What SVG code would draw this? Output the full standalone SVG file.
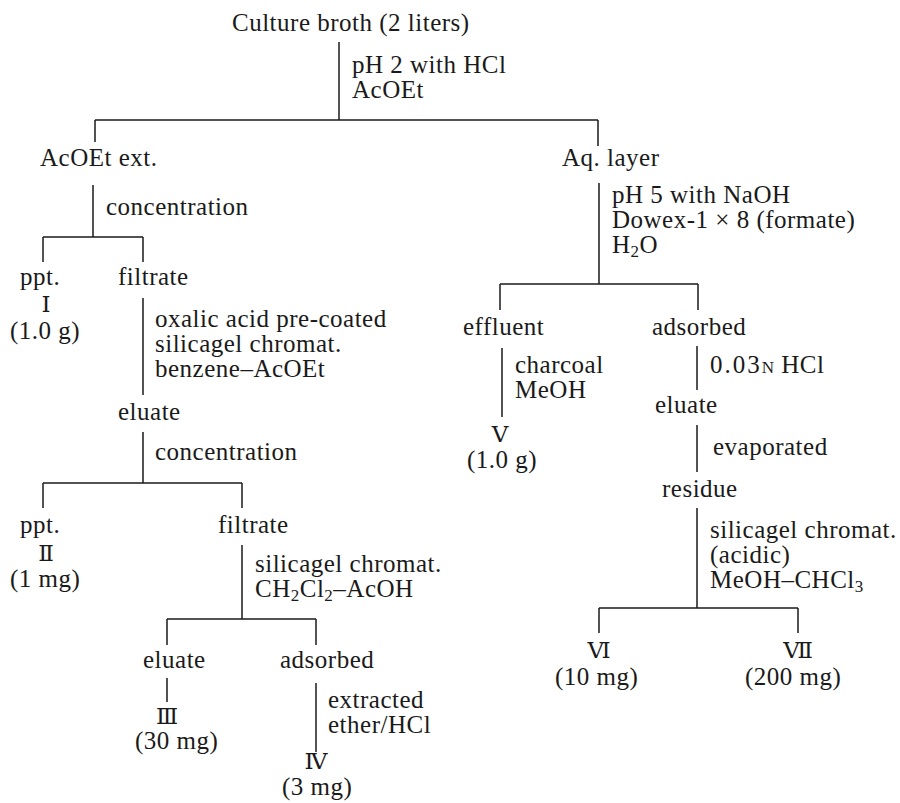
<svg xmlns="http://www.w3.org/2000/svg" width="900" height="803" viewBox="0 0 900 803">
<style>
text{font-family:"Liberation Serif","DejaVu Serif",serif;font-size:25px;letter-spacing:0.5px;fill:#1a1a1a}
.m{text-anchor:middle}
.rn{font-size:23px;letter-spacing:0}
.sub{font-size:17px}
.sc{font-size:17px}
line{stroke:#1a1a1a;stroke-width:1.5;fill:none}
</style>
<rect width="900" height="803" fill="#fff"/>
<g id="connectors">
<line x1="339" y1="42" x2="339" y2="120"/>
<line x1="95" y1="120" x2="598" y2="120"/>
<line x1="95" y1="120" x2="95" y2="142"/>
<line x1="598" y1="120" x2="598" y2="146"/>
<line x1="93" y1="185" x2="93" y2="237"/>
<line x1="43" y1="237" x2="143" y2="237"/>
<line x1="43" y1="237" x2="43" y2="262"/>
<line x1="143" y1="237" x2="143" y2="262"/>
<line x1="143" y1="298" x2="143" y2="395"/>
<line x1="143" y1="432" x2="143" y2="483"/>
<line x1="43" y1="483" x2="242" y2="483"/>
<line x1="43" y1="483" x2="43" y2="508"/>
<line x1="242" y1="483" x2="242" y2="508"/>
<line x1="242" y1="545" x2="242" y2="619"/>
<line x1="167" y1="619" x2="316" y2="619"/>
<line x1="167" y1="619" x2="167" y2="645"/>
<line x1="316" y1="619" x2="316" y2="645"/>
<line x1="167" y1="678" x2="167" y2="702"/>
<line x1="316" y1="683" x2="316" y2="752"/>
<line x1="599" y1="183" x2="599" y2="284"/>
<line x1="500" y1="284" x2="698" y2="284"/>
<line x1="500" y1="284" x2="500" y2="310"/>
<line x1="698" y1="284" x2="698" y2="310"/>
<line x1="502" y1="348" x2="502" y2="417"/>
<line x1="697" y1="346" x2="697" y2="390"/>
<line x1="697" y1="425" x2="697" y2="472"/>
<line x1="697" y1="508" x2="697" y2="608"/>
<line x1="599" y1="608" x2="798" y2="608"/>
<line x1="599" y1="608" x2="599" y2="633"/>
<line x1="798" y1="608" x2="798" y2="633"/>
</g>
<g id="steps">
<text x="352" y="73">pH 2 with HCl</text>
<text x="352" y="98">AcOEt</text>
<text x="106" y="215">concentration</text>
<text x="155" y="327">oxalic acid pre-coated</text>
<text x="155" y="352">silicagel chromat.</text>
<text x="155" y="377">benzene–AcOEt</text>
<text x="155" y="460">concentration</text>
<text x="255" y="572">silicagel chromat.</text>
<text x="255" y="597">CH<tspan class="sub" dy="4">2</tspan><tspan dy="-4">Cl</tspan><tspan class="sub" dy="4">2</tspan><tspan dy="-4">–AcOH</tspan></text>
<text x="328" y="708">extracted</text>
<text x="328" y="733">ether/HCl</text>
<text x="612" y="203">pH 5 with NaOH</text>
<text x="612" y="228">Dowex-1 × 8 (formate)</text>
<text x="612" y="253">H<tspan class="sub" dy="4">2</tspan><tspan dy="-4">O</tspan></text>
<text x="515" y="373">charcoal</text>
<text x="515" y="398">MeOH</text>
<text x="710" y="373"><tspan letter-spacing="2">0.03</tspan><tspan class="sc">N</tspan> HCl</text>
<text x="713" y="455">evaporated</text>
<text x="710" y="538">silicagel chromat.</text>
<text x="710" y="563">(acidic)</text>
<text x="710" y="588">MeOH–CHCl<tspan class="sub" dy="4">3</tspan></text>
</g>
<g id="n-broth"><text x="232" y="31">Culture broth (2 liters)</text></g>
<g id="n-acoet-ext"><text x="40" y="166">AcOEt ext.</text></g>
<g id="n-aq-layer"><text x="562" y="166">Aq. layer</text></g>
<g id="n-ppt1"><text x="20" y="285">ppt.</text><text class="m rn" x="46" y="312">Ⅰ</text><text x="10" y="339">(1.0 g)</text></g>
<g id="n-filtrate1"><text x="118" y="285">filtrate</text></g>
<g id="n-eluate1"><text x="118" y="420">eluate</text></g>
<g id="n-ppt2"><text x="20" y="533">ppt.</text><text class="m rn" x="46" y="561">Ⅱ</text><text x="10" y="587">(1 mg)</text></g>
<g id="n-filtrate2"><text x="218" y="533">filtrate</text></g>
<g id="n-eluate2"><text x="143" y="668">eluate</text></g>
<g id="n-adsorbed1"><text x="280" y="668">adsorbed</text></g>
<g id="n-III"><text class="m rn" x="167" y="724">Ⅲ</text><text x="135" y="749">(30 mg)</text></g>
<g id="n-IV"><text class="m rn" x="316" y="769">Ⅳ</text><text x="282" y="795">(3 mg)</text></g>
<g id="n-effluent"><text x="463" y="335">effluent</text></g>
<g id="n-adsorbed2"><text x="652" y="335">adsorbed</text></g>
<g id="n-V"><text class="m rn" x="500" y="442">Ⅴ</text><text x="467" y="468" letter-spacing="1.5">(1.0 g)</text></g>
<g id="n-eluate3"><text x="655" y="413">eluate</text></g>
<g id="n-residue"><text x="662" y="497">residue</text></g>
<g id="n-VI"><text class="m rn" x="599" y="658">Ⅵ</text><text x="555" y="685">(10 mg)</text></g>
<g id="n-VII"><text class="m rn" x="798" y="658">Ⅶ</text><text x="745" y="685">(200 mg)</text></g>
</svg>
